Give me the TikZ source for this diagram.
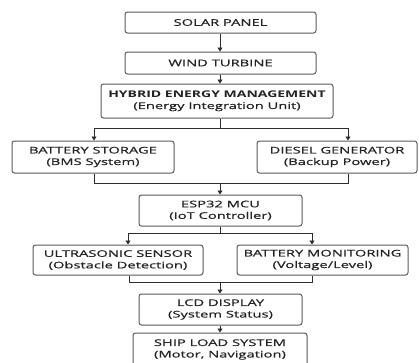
\documentclass[tikz,border=0pt]{standalone}
\usepackage{fontspec}
\usepackage{tikz}
\usetikzlibrary{arrows.meta}
\newfontfamily\boxfont[FakeStretch=1.6, FakeBold=0.6,
    BoldFeatures={FakeStretch=1.52, FakeBold=0}]{Open Sans}
\definecolor{boxline}{RGB}{90, 90, 90}
\definecolor{wireline}{RGB}{45, 45, 45}
\definecolor{textdark}{RGB}{35, 35, 35}

\begin{document}
\begin{tikzpicture}[x=1pt, y=-1pt,
        box/.style={draw=boxline, line width=1pt, rounded corners=2.5pt, fill=white,
            inner sep=0pt, align=center, text=textdark,
            font=\boxfont\fontsize{9.2}{11.5}\selectfont},
        wire/.style={draw=wireline, line width=0.9pt},
        arr/.style={wire, -{Triangle[width=5pt,length=4pt]}}]
        \useasboundingbox (0,0) rectangle (419,362);
        % power sources
        \node[box, minimum width=191pt, minimum height=21pt] (solar) at (220.5,22.5) {SOLAR PANEL};
        \node[box, minimum width=191pt, minimum height=22pt] (wind) at (220.5,63) {WIND TURBINE};
        \node[box, minimum width=232pt, minimum height=34pt] (hybrid) at (217,101)
            {\bfseries HYBRID ENERGY MANAGEMENT\\(Energy Integration Unit)};
        \node[box, minimum width=162pt, minimum height=32pt] (battery) at (93,157)
            {BATTERY STORAGE\\(BMS System)};
        \node[box, minimum width=160pt, minimum height=32pt] (diesel) at (337,157)
            {DIESEL GENERATOR\\(Backup Power)};
        % control
        \node[box, minimum width=163pt, minimum height=31pt] (esp) at (220.5,210.5)
            {ESP32 MCU\\(IoT Controller)};
        \node[box, minimum width=170pt, minimum height=30pt] (ultra) at (118,260)
            {ULTRASONIC SENSOR\\(Obstacle Detection)};
        \node[box, minimum width=171pt, minimum height=30pt] (batmon) at (322.5,260)
            {BATTERY MONITORING\\(Voltage/Level)};
        \node[box, minimum width=163pt, minimum height=31pt] (lcd) at (220.5,309.5)
            {LCD DISPLAY\\(System Status)};
        \node[box, minimum width=174pt, minimum height=33pt] (ship) at (220,349.5)
            {SHIP LOAD SYSTEM\\(Motor, Navigation)};
        % junction points
        \coordinate (splitA) at (220,128);
        \coordinate (splitAl) at (94,128);
        \coordinate (splitAr) at (348,128);
        \coordinate (joinA) at (220,183);
        \coordinate (joinAl) at (94,183);
        \coordinate (joinAr) at (348,183);
        \coordinate (splitB) at (220,233);
        \coordinate (splitBl) at (128,233);
        \coordinate (splitBr) at (312,233);
        \coordinate (joinB) at (220,282);
        \coordinate (joinBl) at (129,282);
        \coordinate (joinBr) at (312,282);
        % connectors
        \draw[arr] (solar.south -| splitA) -- (wind.north -| splitA);
        \draw[arr] (wind.south -| splitA) -- (hybrid.north -| splitA);
        \draw[wire] (hybrid.south -| splitA) -- (splitA);
        \draw[wire] (splitAl) -- (splitAr);
        \draw[arr] (splitAl) -- (battery.north -| splitAl);
        \draw[arr] (splitAr) -- (diesel.north -| splitAr);
        \draw[wire] (battery.south -| joinAl) -- (joinAl) -- (joinAr) -- (diesel.south -| joinAr);
        \draw[arr] (joinA) -- (esp.north -| joinA);
        \draw[wire] (esp.south -| splitB) -- (splitB);
        \draw[wire] (splitBl) -- (splitBr);
        \draw[arr] (splitBl) -- (ultra.north -| splitBl);
        \draw[arr] (splitBr) -- (batmon.north -| splitBr);
        \draw[wire] (ultra.south -| joinBl) -- (joinBl) -- (joinBr) -- (batmon.south -| joinBr);
        \draw[arr] (joinB) -- (lcd.north -| joinB);
        \draw[arr] (lcd.south -| joinB) -- (ship.north -| joinB);
    \end{tikzpicture}
\end{document}
